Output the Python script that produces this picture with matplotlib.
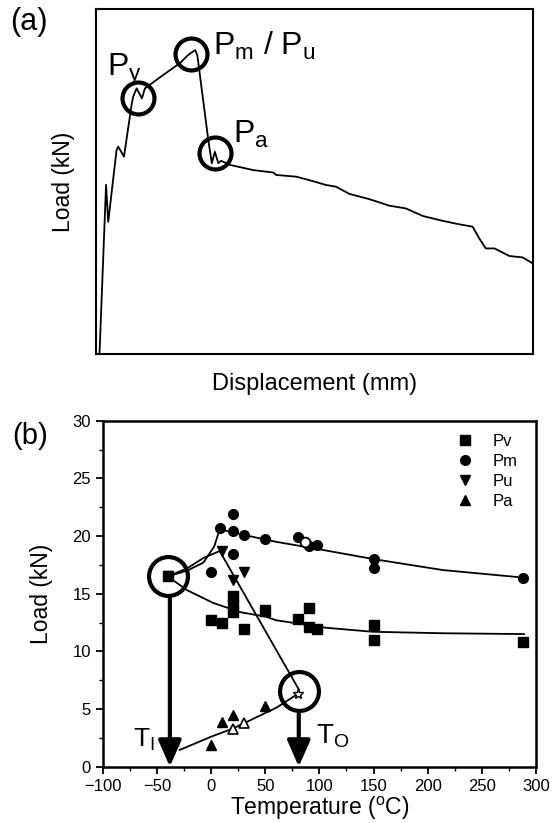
import matplotlib
matplotlib.use('Agg')
import matplotlib.pyplot as plt

plt.rcParams['font.family'] = ['Liberation Sans', 'DejaVu Sans']
plt.rcParams['mathtext.fontset'] = 'custom'
plt.rcParams['mathtext.rm'] = 'Liberation Sans'
plt.rcParams['mathtext.it'] = 'Liberation Sans:italic'
plt.rcParams['mathtext.bf'] = 'Liberation Sans:bold'

# ---------------- Panel (a): load-displacement curve (arbitrary units) -----
disp = [0.8, 2.3, 2.8, 4.7, 5.1, 6.4, 8.2, 8.5, 9.3, 10.5, 11.2, 15.4, 19.2,
        21.1, 22.7, 23.2, 25.7, 26.5, 27.2, 28.0, 28.6, 30.7, 36.0, 40.6,
        41.2, 45.8, 48.8, 52.6, 54.9, 58.0, 62.5, 67.1, 70.9, 74.8, 79.3,
        83.1, 86.2, 87.7, 89.2, 91.2, 94.6, 97.6, 99.9]
load = [0.0, 49.0, 38.3, 59.1, 60.1, 57.2, 72.7, 74.6, 77.0, 74.1, 77.0,
        80.9, 84.3, 86.7, 88.1, 86.5, 62.0, 55.3, 58.6, 55.3, 56.0, 54.8,
        53.3, 52.6, 51.9, 51.4, 50.4, 49.0, 48.5, 46.4, 44.9, 43.0, 42.2,
        40.0, 38.6, 37.6, 36.9, 33.5, 30.6, 30.6, 28.4, 28.0, 26.3]
circ_a_x = [9.5, 21.7, 27.2]
circ_a_y = [74.1, 86.9, 58.2]

# ---------------- Panel (b): load vs temperature --------------------------
py_T = [-40, 0, 10, 20, 20, 20, 30, 50, 80, 90, 90, 98, 150, 150, 288]
py_L = [16.5, 12.7, 12.5, 14.8, 14.1, 13.4, 11.9, 13.5, 12.8, 13.8, 12.1,
        11.9, 12.3, 11.0, 10.8]
pm_T = [0, 8, 20, 20, 20, 30, 50, 80, 90, 98, 150, 150, 288]
pm_L = [16.9, 20.7, 21.9, 20.4, 18.4, 20.1, 19.7, 19.9, 19.1, 19.2, 18.0,
        17.2, 16.4]
pm_open_T = [87]
pm_open_L = [19.5]
pu_T = [-40, 10, 20, 30, 50]
pu_L = [16.5, 18.7, 16.2, 16.9, 13.6]
pa_T = [0, 10, 20, 50]
pa_L = [1.9, 3.9, 4.5, 5.3]
pa_open_T = [20, 30]
pa_open_L = [3.3, 3.8]
star_T = [80]
star_L = [6.3]

# fitted / guide curves
fit_py_T = [-40, -22, 2, 27, 51, 60, 81, 106, 149, 214, 289]
fit_py_L = [16.5, 15.3, 14.2, 13.4, 13.0, 12.7, 12.4, 12.05, 11.7, 11.57, 11.5]
fit_pm_T = [-40, -22, -7, 3, 8, 20, 50, 60, 94, 150, 214, 288]
fit_pm_L = [16.5, 17.0, 17.7, 19.1, 20.6, 20.3, 19.7, 19.5, 18.95, 18.0, 17.05, 16.4]
fit_pu_T = [-40, -22, -7, 8, 81]
fit_pu_L = [16.5, 17.2, 18.1, 18.7, 6.7]
fit_pa_T = [-29, -10, 0, 20, 40, 60, 80]
fit_pa_L = [1.45, 2.2, 2.6, 3.3, 4.2, 5.1, 6.3]

TI_T, TI_top = -38, 14.6
TO_T, TO_top = 81, 4.6
big_circ_T = [-39.5, 81]
big_circ_L = [16.5, 6.6]

xticks = [-100, -50, 0, 50, 100, 150, 200, 250, 300]
yticks = [0, 5, 10, 15, 20, 25, 30]

W, H = 552, 823
fig = plt.figure(figsize=(W / 100, H / 100), dpi=100)

# ---------- axes (a)
axa = fig.add_axes([96 / W, 1 - 354 / H, (533 - 96) / W, 345 / H])
axa.plot(disp, load, color='black', lw=1.3)
axa.plot(circ_a_x, circ_a_y, 'o', ms=23, mfc='none', mec='black', mew=3)
axa.set_xlim(0, 100)
axa.set_ylim(0, 100)
axa.set_xticks([])
axa.set_yticks([])
for s in axa.spines.values():
    s.set_linewidth(1.5)
axa.set_ylabel('Load (kN)', fontsize=16.5, labelpad=15)
axa.set_xlabel('Displacement (mm)', fontsize=17, labelpad=14)
axa.text(2.5, 80.6, r'P$_{\rm y}$', fontsize=23, va='baseline', ha='left')
axa.text(26.8, 86.7, r'P$_{\rm m}$ / P$_{\rm u}$', fontsize=23, va='baseline', ha='left')
axa.text(31.4, 61.2, r'P$_{\rm a}$', fontsize=23, va='baseline', ha='left')
fig.text(10 / W, 1 - 7 / H, '(a)', fontsize=22, va='top', ha='left')

# ---------- axes (b)
axb = fig.add_axes([102.7 / W, 1 - 766.7 / H, (536 - 102.7) / W, 346 / H])
lc = 'black'
axb.plot(fit_pm_T, fit_pm_L, color=lc, lw=1.3)
axb.plot(fit_py_T, fit_py_L, color=lc, lw=1.3)
axb.plot(fit_pu_T, fit_pu_L, color=lc, lw=1.3)
axb.plot(fit_pa_T, fit_pa_L, color=lc, lw=1.3)
axb.plot(py_T, py_L, 's', color=lc, ms=6.5, label='Pv')
axb.plot(pm_T, pm_L, 'o', color=lc, ms=7, label='Pm')
axb.plot(pu_T, pu_L, 'v', color=lc, ms=7.5, label='Pu')
axb.plot(pa_T, pa_L, '^', color=lc, ms=7.5, label='Pa')
axb.plot(pm_open_T, pm_open_L, 'o', mfc='white', mec=lc, mew=1.3, ms=7)
axb.plot(pa_open_T, pa_open_L, '^', mfc='white', mec=lc, mew=1.2, ms=7)
axb.plot(star_T, star_L, '*', mfc='white', mec=lc, mew=1.0, ms=8)
axb.plot(big_circ_T, big_circ_L, 'o', ms=28, mfc='none', mec=lc, mew=3)

for xt, ytop in [(TI_T, TI_top), (TO_T, TO_top)]:
    axb.annotate('', xy=(xt, 0), xytext=(xt, ytop),
                 arrowprops=dict(arrowstyle='-|>,head_length=0.8,head_width=0.35',
                                 mutation_scale=20, lw=3, color=lc,
                                 shrinkA=0, shrinkB=0),
                 annotation_clip=False)

axb.text(-72, 1.7, r'T$_{\rm I}$', fontsize=19, va='baseline', ha='left')
axb.text(97, 2.05, r'T$_{\rm O}$', fontsize=20, va='baseline', ha='left')

axb.set_xlim(-100, 300)
axb.set_ylim(0, 30)
axb.set_xticks(xticks)
axb.set_yticks(yticks)
axb.set_xticks([-75, -25, 25, 75, 125, 175, 225, 275], minor=True)
axb.set_yticks([2.5, 7.5, 12.5, 17.5, 22.5, 27.5], minor=True)
axb.tick_params(which='major', direction='out', length=5, width=1.3, labelsize=12)
axb.tick_params(which='minor', direction='out', length=3, width=1.0)
for s in axb.spines.values():
    s.set_linewidth(1.8)
axb.set_ylabel('Load (kN)', fontsize=16.5, labelpad=14)
axb.set_xlabel(r'Temperature ($^{\rm o}$C)', fontsize=16.5, labelpad=1)
axb.legend(loc='upper right', frameon=False, fontsize=12, handlelength=1.0,
           handletextpad=1.2, labelspacing=0.3, borderaxespad=0.3,
           bbox_to_anchor=(0.985, 0.995))
fig.text(12 / W, 1 - 422 / H, '(b)', fontsize=21, va='top', ha='left')

fig.savefig('out.png', dpi=100)
